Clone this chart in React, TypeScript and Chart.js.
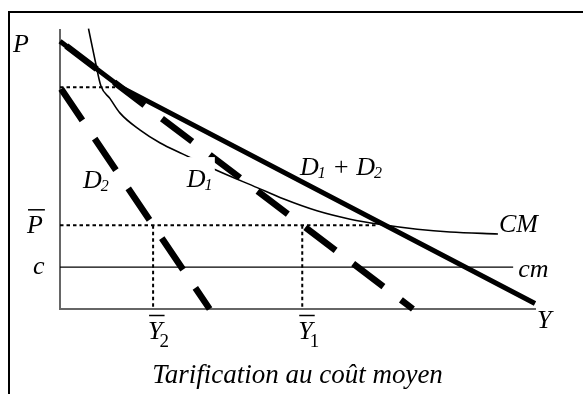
import React, { useEffect, useRef } from "react";
import { Chart, registerables } from "chart.js";

Chart.register(...registerables);

// Both axes run from 0 to 100 (quantity Y horizontally, price P vertically).
const pBar = 30; // average-cost price
const cLevel = 15; // marginal cost level
const y2Bar = 19.6; // quantity bought by group 2 at pBar
const y1Bar = 51; // quantity bought by group 1 at pBar
const d2Cap = 79.5; // price intercept of D2

const d2Points = [
  { x: 0, y: d2Cap },
  { x: 31.5, y: 0 },
];
const d1Points = [
  { x: 0, y: 96 },
  { x: 74.3, y: 0 },
];
const dSumPoints = [
  { x: 0, y: 96 },
  { x: 12.8, y: d2Cap },
  { x: 100, y: 2 },
];
const cmX = [6.0, 7.4, 8.6, 10.5, 12.6, 16.8, 21.1, 25.9, 32.6, 41.5, 47.0, 54.1, 61.1, 68.0, 75.2, 82.1, 92.2];
const cmY = [100.5, 89, 80, 75.5, 70.3, 64.2, 59.5, 55.5, 50.0, 43.5, 39.5, 35.2, 32.2, 30.2, 28.6, 27.6, 26.9];
const cmEnd = 95.4; // right end of the marginal-cost line
const pBarEnd = 66.5; // right end of the dotted pBar guide
const d2CapEnd = 11.6; // right end of the dotted guide at the D2 intercept

const cmPoints = cmX.map((x, i) => ({ x, y: cmY[i] }));

const FONT = '"Liberation Serif", "Times New Roman", serif';

type Run = { t: string; sub?: boolean; upright?: boolean };
type Label = {
  runs: Run[];
  at: [number, number];
  dx: number;
  dy: number;
  over?: boolean;
  center?: boolean;
  font?: string;
  bg?: [number, number, number, number];
};

const MAIN = `italic 26px ${FONT}`;
const TITLE = `italic 27px ${FONT}`;
const SUB_IT = `italic 16px ${FONT}`;
const SUB_UP = `19px ${FONT}`;

const labels: Label[] = [
  { runs: [{ t: "P" }], at: [0, 100], dx: -47, dy: 22 },
  { runs: [{ t: "P" }], at: [0, pBar], dx: -33, dy: 8, over: true },
  { runs: [{ t: "c" }], at: [0, cLevel], dx: -27, dy: 7 },
  { runs: [{ t: "Y" }, { t: "2", sub: true, upright: true }], at: [y2Bar, 0], dx: -5, dy: 30, over: true },
  { runs: [{ t: "Y" }, { t: "1", sub: true, upright: true }], at: [y1Bar, 0], dx: -4, dy: 30, over: true },
  { runs: [{ t: "Y" }], at: [100, 0], dx: 2, dy: 19 },
  { runs: [{ t: "CM" }], at: [cmX[cmX.length - 1], cmY[cmY.length - 1]], dx: 1, dy: -2 },
  { runs: [{ t: "cm" }], at: [cmEnd, cLevel], dx: 5, dy: 10 },
  { runs: [{ t: "D" }, { t: "1", sub: true }, { t: " + D" }, { t: "2", sub: true }], at: [50.5, 48], dx: 0, dy: 0 },
  { runs: [{ t: "D" }, { t: "1", sub: true }], at: [26.7, 43.7], dx: 0, dy: 0, bg: [-3, -30, 31, 6] },
  { runs: [{ t: "D" }, { t: "2", sub: true }], at: [4.84, 43.4], dx: 0, dy: 0 },
  { runs: [{ t: "Tarification au coût moyen" }], at: [50, 0], dx: 0, dy: 74, center: true, font: TITLE },
];

function drawLabel(ctx: CanvasRenderingContext2D, chart: Chart, lab: Label) {
  const xs = chart.scales.x;
  const ys = chart.scales.y;
  const main = lab.font || MAIN;
  let x = xs.getPixelForValue(lab.at[0]) + lab.dx;
  const y = ys.getPixelForValue(lab.at[1]) + lab.dy;
  if (lab.center) {
    ctx.font = main;
    x -= ctx.measureText(lab.runs[0].t).width / 2;
  }
  if (lab.bg) {
    ctx.fillStyle = "#fff";
    ctx.fillRect(x + lab.bg[0], y + lab.bg[1], lab.bg[2], lab.bg[3] - lab.bg[1]);
  }
  ctx.fillStyle = "#000";
  ctx.textBaseline = "alphabetic";
  ctx.textAlign = "left";
  lab.runs.forEach((r, i) => {
    if (r.sub) {
      ctx.font = r.upright ? SUB_UP : SUB_IT;
      const sx = x - (r.upright ? 3 : 1);
      ctx.fillText(r.t, sx, y + (r.upright ? 8 : 3));
      x = sx + ctx.measureText(r.t).width;
    } else {
      ctx.font = main;
      const w = ctx.measureText(r.t).width;
      ctx.fillText(r.t, x, y);
      if (lab.over && i === 0) {
        ctx.strokeStyle = "#000";
        ctx.lineWidth = 1.5;
        ctx.beginPath();
        ctx.moveTo(x + 1, y - 23.5);
        ctx.lineTo(x + w + 2, y - 23.5);
        ctx.stroke();
      }
      x += w;
    }
  });
}

const framePlugin = {
  id: "frame",
  beforeDraw(chart: Chart) {
    const ctx = chart.ctx;
    ctx.save();
    ctx.strokeStyle = "#000";
    ctx.lineWidth = 2;
    ctx.beginPath();
    ctx.moveTo(9, chart.height);
    ctx.lineTo(9, 12);
    ctx.lineTo(chart.width, 12);
    ctx.stroke();
    ctx.restore();
  },
};

const labelPlugin = {
  id: "labels",
  afterDatasetsDraw(chart: Chart) {
    const ctx = chart.ctx;
    ctx.save();
    labels.forEach((l) => drawLabel(ctx, chart, l));
    ctx.restore();
  },
};

function lineSet(data: { x: number; y: number }[], width: number, dash: number[] = [], offset = 0, extra = {}) {
  return {
    data,
    showLine: true,
    pointRadius: 0,
    borderColor: "#000",
    backgroundColor: "#000",
    borderWidth: width,
    borderDash: dash,
    borderDashOffset: offset,
    borderCapStyle: "butt",
    fill: false,
    tension: 0,
    clip: false,
    ...extra,
  };
}

export default function App() {
  const ref = useRef<HTMLCanvasElement | null>(null);

  useEffect(() => {
    if (!ref.current) return;
    const dotted = [3.5, 3];
    const chart = new Chart(ref.current, {
      type: "scatter",
      data: {
        datasets: [
          lineSet(dSumPoints, 5),
          lineSet(d1Points, 6.5, [38, 22], -8),
          lineSet(d2Points, 6.5, [38, 22], -2),
          lineSet(cmPoints, 1.6, [], 0, { cubicInterpolationMode: "monotone" }),
          lineSet([{ x: 0, y: cLevel }, { x: cmEnd, y: cLevel }], 1.3),
          lineSet([{ x: 0, y: pBar }, { x: pBarEnd, y: pBar }], 2, dotted),
          lineSet([{ x: 0, y: d2Cap }, { x: d2CapEnd, y: d2Cap }], 2, dotted),
          lineSet([{ x: y2Bar, y: pBar }, { x: y2Bar, y: 0 }], 2, dotted),
          lineSet([{ x: y1Bar, y: pBar }, { x: y1Bar, y: 0 }], 2, dotted),
        ] as any,
      },
      options: {
        responsive: false,
        animation: false,
        events: [],
        layout: { padding: { left: 60, top: 30, right: 48, bottom: 85 } },
        plugins: { legend: { display: false }, tooltip: { enabled: false } },
        scales: {
          x: {
            type: "linear",
            min: 0,
            max: 100,
            grid: { display: false, drawTicks: false },
            ticks: { display: false },
            border: { display: true, color: "#666", width: 2 },
          },
          y: {
            type: "linear",
            min: 0,
            max: 100,
            grid: { display: false, drawTicks: false },
            ticks: { display: false },
            border: { display: true, color: "#666", width: 2 },
          },
        },
      },
      plugins: [framePlugin, labelPlugin],
    });
    return () => chart.destroy();
  }, []);

  return (
    <div style={{ position: "fixed", left: 0, top: 0, width: 583, height: 394, background: "#fff" }}>
      <canvas ref={ref} width={583} height={394} style={{ display: "block" }} />
    </div>
  );
}
